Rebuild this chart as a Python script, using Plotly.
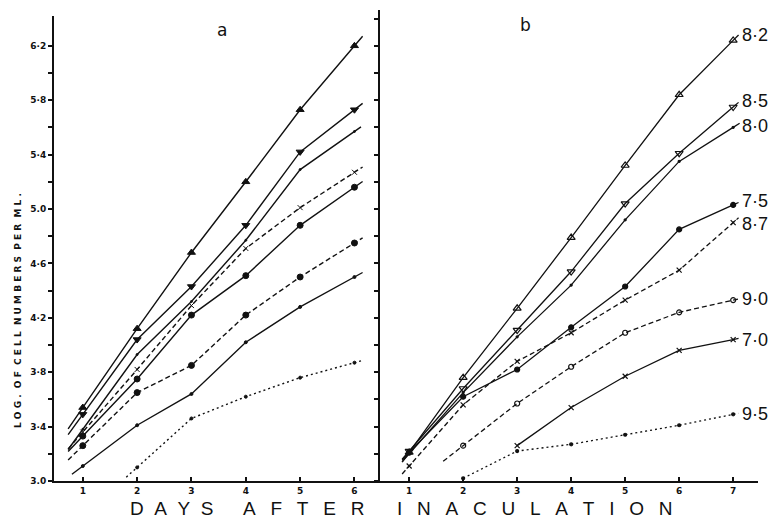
import plotly.graph_objects as go

# ---------------- data ----------------
days_a = [1, 2, 3, 4, 5, 6]
a_tri_up   = [3.54, 4.12, 4.68, 5.20, 5.73, 6.20]
a_tri_down = [3.49, 4.04, 4.43, 4.88, 5.42, 5.73]
a_plain    = [3.38, 3.93, 4.32, 4.77, 5.29, 5.57]
a_cross    = [3.36, 3.82, 4.29, 4.71, 5.01, 5.27]
a_circle   = [3.33, 3.75, 4.22, 4.51, 4.88, 5.16]
a_dashdot  = [3.26, 3.65, 3.85, 4.22, 4.50, 4.75]
a_low      = [3.11, 3.41, 3.64, 4.02, 4.28, 4.50]
a_dotted   = [None, 3.10, 3.46, 3.62, 3.76, 3.87]

days_b = [1, 2, 3, 4, 5, 6, 7]
b_labels = ["8·2", "8·5", "8·0", "7·5", "8·7", "9·0", "7·0", "9·5"]
b_82 = [3.21, 3.76, 4.27, 4.79, 5.32, 5.84, 6.24]
b_85 = [3.22, 3.68, 4.11, 4.54, 5.04, 5.41, 5.75]
b_80 = [3.20, 3.65, 4.06, 4.44, 4.92, 5.35, 5.60]
b_75 = [3.21, 3.62, 3.82, 4.13, 4.43, 4.85, 5.03]
b_87 = [3.11, 3.56, 3.88, 4.09, 4.33, 4.55, 4.90]
b_90 = [None, 3.26, 3.57, 3.84, 4.09, 4.24, 4.33]
b_70 = [None, None, 3.26, 3.54, 3.77, 3.96, 4.04]
b_95 = [None, 3.02, 3.22, 3.27, 3.34, 3.41, 3.49]

y_tick_text = ["3.0", "3·4", "3·8", "4·2", "4·6", "5.0", "5·4", "5·8", "6·2"]
x_title_words = ["DAYS", "AFTER", "INACULATION"]
y_title_words = ["LOG.", "OF", "CELL", "NUMBERS", "PER", "ML."]

# ---------------- styles ----------------
INK = "#111111"
DASH = "5px,3px"
DOT = "2px,3px"
NB = "\u00a0"
EN = "\u2002"

series_a = [
    (a_tri_up,   dict(dash="solid", sym="triangle-up", size=7, ext=(0.27, 0.15))),
    (a_tri_down, dict(dash="solid", sym="triangle-down", size=7, ext=(0.27, 0.15))),
    (a_plain,    dict(dash="solid", sym="circle", size=2, ext=(0.27, 0.12))),
    (a_cross,    dict(dash=DASH, sym="x-thin", size=5, ext=(0.27, 0.15))),
    (a_circle,   dict(dash="solid", sym="circle", size=6, ext=(0.27, 0.15))),
    (a_dashdot,  dict(dash=DASH, sym="circle", size=6, ext=(0.27, 0.15))),
    (a_low,      dict(dash="solid", sym="circle", size=3, ext=(0.2, 0.15))),
    (a_dotted,   dict(dash=DOT, sym="circle", size=3, ext=(0.2, 0.15))),
]
series_b = [
    (b_82, dict(dash="solid", sym="triangle-up-open", size=7, ext=(0.13, 0.1), ys=5)),
    (b_85, dict(dash="solid", sym="triangle-down-open", size=7, ext=(0.13, 0.1), ys=6)),
    (b_80, dict(dash="solid", sym="circle", size=2, ext=(0.13, 0.12), ys=1)),
    (b_75, dict(dash="solid", sym="circle", size=5, ext=(0.13, 0.1), ys=4)),
    (b_87, dict(dash=DASH, sym="x-thin", size=5, ext=(0.13, 0.1), ys=-1)),
    (b_90, dict(dash=DASH, sym="circle-open", size=5, ext=(0.37, 0.1), ys=1)),
    (b_70, dict(dash="solid", sym="x-thin", size=5, ext=(0.0, 0.1), ys=0)),
    (b_95, dict(dash=DOT, sym="circle", size=3, ext=(0.0, 0.1), ys=0)),
]

# page geometry: the html body has an 8px margin, so the figure is drawn
# 8px in from the window's corner; target coordinates are window pixels.
OFF = 8
W, H = 776 - OFF, 522 - OFF
ML, MR, MT, MB = 32, 2, 0, 22
PW, PH = W - ML - MR, H - MT - MB


def px(x):
    return (x - OFF - ML) / PW


def py(y):
    return (H - MB - (y - OFF)) / PH


def extended(days, vals, ext):
    pts = [(d, v) for d, v in zip(days, vals) if v is not None]
    xs = [p[0] for p in pts]
    ys = [p[1] for p in pts]
    s0, s1 = ext
    if s0 > 0:
        k = (ys[1] - ys[0]) / (xs[1] - xs[0])
        xs = [xs[0] - s0] + xs
        ys = [ys[0] - k * s0] + ys
    if s1 > 0:
        k = (ys[-1] - ys[-2]) / (xs[-1] - xs[-2])
        xs = xs + [xs[-1] + s1]
        ys = ys + [ys[-1] + k * s1]
    return xs, ys


fig = go.Figure()

for vals, st in series_a:
    xs, ys = extended(days_a, vals, st["ext"])
    fig.add_trace(go.Scatter(x=xs, y=ys, mode="lines", xaxis="x", yaxis="y",
                             line=dict(color=INK, width=1.4, dash=st["dash"]),
                             hoverinfo="skip", showlegend=False))
    fig.add_trace(go.Scatter(x=days_a, y=vals, mode="markers", xaxis="x", yaxis="y",
                             marker=dict(symbol=st["sym"], size=st["size"], color=INK,
                                         line=dict(color=INK, width=1)),
                             showlegend=False))

for (vals, st), lab in zip(series_b, b_labels):
    xs, ys = extended(days_b, vals, st["ext"])
    fig.add_trace(go.Scatter(x=xs, y=ys, mode="lines", xaxis="x2", yaxis="y2",
                             line=dict(color=INK, width=1.3, dash=st["dash"]),
                             hoverinfo="skip", showlegend=False))
    fig.add_trace(go.Scatter(x=days_b, y=vals, mode="markers", xaxis="x2", yaxis="y2",
                             marker=dict(symbol=st["sym"], size=st["size"], color=INK,
                                         line=dict(color=INK, width=1.2)),
                             showlegend=False))
    fig.add_annotation(x=days_b[-1] + 0.15, y=vals[-1], xref="x2", yref="y2",
                       text=lab, showarrow=False, xanchor="left", yanchor="middle",
                       yshift=st["ys"], borderpad=0,
                       font=dict(family="Liberation Sans Narrow, Liberation Sans",
                                 size=18, color=INK))

axis_common = dict(showgrid=False, zeroline=False, showline=True, linecolor=INK,
                   linewidth=2, tickcolor=INK, mirror=False, automargin=False)
tick_font = dict(family="DejaVu Sans", size=9, color=INK, weight="bold")

fig.update_layout(
    width=W, height=H,
    margin=dict(l=ML, r=MR, t=MT, b=MB),
    paper_bgcolor="white", plot_bgcolor="white",
    xaxis=dict(domain=[px(54), px(380)], range=[0.47, 6.47], anchor="y",
               tickvals=days_a, ticks="inside", ticklen=4, tickwidth=1.5,
               tickfont=tick_font, **axis_common),
    yaxis=dict(domain=[py(481), py(16)], range=[3.0, 3.0 + 465 / 136], anchor="x",
               tickvals=[3.0 + 0.2 * i for i in range(17)],
               ticktext=[y_tick_text[i // 2] if i % 2 == 0 else "" for i in range(17)],
               ticks="outside", ticklen=4, tickwidth=1.5,
               tickfont=tick_font, **axis_common),
    xaxis2=dict(domain=[px(380), px(758)], range=[0.46, 7.46], anchor="y2",
                tickvals=days_b, ticks="inside", ticklen=4, tickwidth=1.5,
                tickfont=tick_font, **axis_common),
    yaxis2=dict(domain=[py(481), py(10)], range=[3.0, 3.0 + 471 / 136],
                anchor="x2", tickvals=[3.0 + 0.2 * i for i in range(18)],
                showticklabels=False, ticks="outside", ticklen=4, tickwidth=1.5,
                **axis_common),
)

fig.add_annotation(x=px(222), y=py(30), xref="paper", yref="paper", text="a",
                   showarrow=False, xanchor="center", yanchor="middle",
                   font=dict(family="DejaVu Sans", size=17, color=INK))
fig.add_annotation(x=px(525), y=py(25), xref="paper", yref="paper", text="b",
                   showarrow=False, xanchor="center", yanchor="middle",
                   font=dict(family="DejaVu Sans", size=17, color=INK))

# y-axis title, letter-spaced
y_title = (NB * 2).join(" ".join(w) for w in y_title_words)
fig.add_annotation(x=px(18), y=py(311), xref="paper", yref="paper",
                   text=y_title, textangle=-90, showarrow=False,
                   xanchor="center", yanchor="middle",
                   font=dict(family="DejaVu Sans", size=9, color=INK, weight="bold"))

# x title: three letter-spaced words
x_word_centres = [171, 303, 535]
x_word_gaps = [NB * 2, EN + NB, EN + NB]
for word, cx, gap in zip(x_title_words, x_word_centres, x_word_gaps):
    fig.add_annotation(x=px(cx), y=py(508), xref="paper", yref="paper",
                       text=gap.join(word), showarrow=False,
                       xanchor="center", yanchor="middle",
                       font=dict(family="Liberation Sans", size=19, color=INK))

fig.write_html("out.html")
